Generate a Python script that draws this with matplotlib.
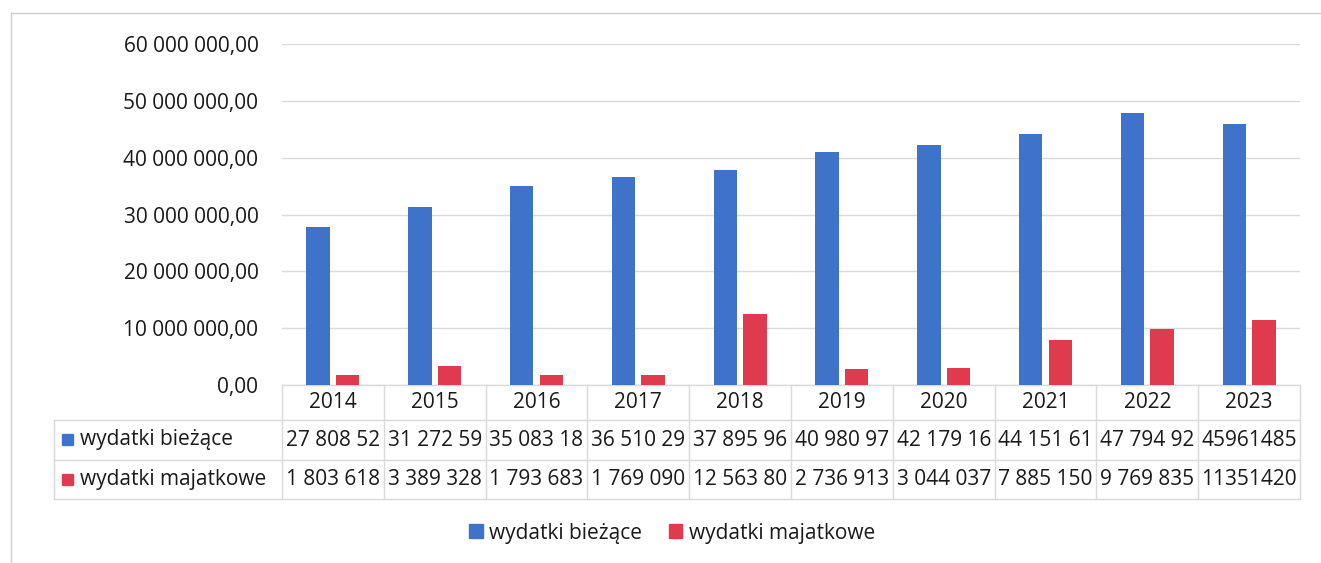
import matplotlib.pyplot as plt
from matplotlib.patches import Patch, Rectangle
from matplotlib.lines import Line2D

plt.rcParams['font.family'] = ['Open Sans', 'DejaVu Sans']

# data
years = ["2014", "2015", "2016", "2017", "2018", "2019", "2020", "2021", "2022", "2023"]
biezace = [27808520, 31272590, 35083180, 36510290, 37895960, 40980970, 42179160, 44151610, 47794920, 45961485]
majatkowe = [1803618, 3389328, 1793683, 1769090, 12563800, 2736913, 3044037, 7885150, 9769835, 11351420]

# text as shown in the data table (cut off by the cell width)
biezace_txt = ["27 808 52", "31 272 59", "35 083 18", "36 510 29", "37 895 96",
               "40 980 97", "42 179 16", "44 151 61", "47 794 92", "45961485"]
majatkowe_txt = ["1 803 618", "3 389 328", "1 793 683", "1 769 090", "12 563 80",
                 "2 736 913", "3 044 037", "7 885 150", "9 769 835", "11351420"]

series_names = ["wydatki bieżące", "wydatki majatkowe"]
blue = "#3F73C9"
red = "#E03A4E"
grid_col = "#D9D9D9"
txt_col = "#1A1A1A"
fs = 15

W, H = 1321, 563
fig = plt.figure(figsize=(W / 100, H / 100), dpi=100)

# plot area in pixels
left, right, top, bottom = 282, 1300, 44, 385
ax = fig.add_axes([left / W, 1 - bottom / H, (right - left) / W, (bottom - top) / H])

x = list(range(len(years)))
bw = 0.23
ax.bar([i - 0.145 for i in x], biezace, width=bw, color=blue, zorder=3)
ax.bar([i + 0.145 for i in x], majatkowe, width=bw, color=red, zorder=3)

ax.set_xlim(-0.5, len(years) - 0.5)
ax.set_ylim(0, 60000000)
yt = list(range(0, 60000001, 10000000))
ax.set_yticks(yt)
ax.set_yticklabels([f"{v:,.2f}".replace(",", " ").replace(".", ",") for v in yt], fontsize=fs, color=txt_col)
ax.yaxis.grid(True, color=grid_col, linewidth=1, zorder=0)
ax.tick_params(axis="y", length=0, pad=17)
ax.set_xticks([])
for s in ax.spines.values():
    s.set_visible(False)


# data table under the plot, in axes coordinates
def fx(px):
    return (px - left) / (right - left)


def fy(py):
    return (bottom - py) / (bottom - top)


rows = [385, 420, 460, 499]
tbl_left = 54
colw = 1.0 / len(years)
lkw = dict(color=grid_col, linewidth=1, transform=ax.transAxes, clip_on=False)
ax.add_line(Line2D([0, 1], [fy(rows[0])] * 2, **lkw))
for r in rows[1:]:
    ax.add_line(Line2D([fx(tbl_left), 1], [fy(r)] * 2, **lkw))
ax.add_line(Line2D([fx(tbl_left)] * 2, [fy(rows[1]), fy(rows[3])], **lkw))
for i in range(len(years) + 1):
    ax.add_line(Line2D([i * colw] * 2, [fy(rows[0]), fy(rows[3])], **lkw))

tkw = dict(transform=ax.transAxes, fontsize=fs, ha="center", va="center", color=txt_col, clip_on=False)
for i in range(len(years)):
    cx = (i + 0.5) * colw
    ax.text(cx, fy((rows[0] + rows[1]) / 2), years[i], **tkw)
    ax.text(cx, fy((rows[1] + rows[2]) / 2), biezace_txt[i], **tkw)
    ax.text(cx, fy((rows[2] + rows[3]) / 2), majatkowe_txt[i], **tkw)

for k, (name, col) in enumerate(zip(series_names, [blue, red])):
    cy = (rows[k + 1] + rows[k + 2]) / 2
    ax.add_patch(Rectangle((fx(62), fy(cy + 5)), fx(73) - fx(62), fy(cy - 6) - fy(cy + 5),
                           color=col, transform=ax.transAxes, clip_on=False))
    ax.text(fx(80), fy(cy), name, transform=ax.transAxes, fontsize=fs, ha="left", va="center",
            color=txt_col, clip_on=False)

# legend below
handles = [Patch(color=blue), Patch(color=red)]
fig.legend(handles, series_names, loc="center", bbox_to_anchor=(672 / W, 1 - 533 / H), ncol=2,
           frameon=False, fontsize=fs, handlelength=0.65, handleheight=0.65, handletextpad=0.3,
           columnspacing=1.3, labelcolor=txt_col)

# chart area border
fig.add_artist(Line2D([11 / W, 1], [1 - 13 / H] * 2, color="#CCCCCC", linewidth=1))
fig.add_artist(Line2D([11 / W] * 2, [0, 1 - 13 / H], color="#CCCCCC", linewidth=1))

plt.savefig("out.png", dpi=100)
